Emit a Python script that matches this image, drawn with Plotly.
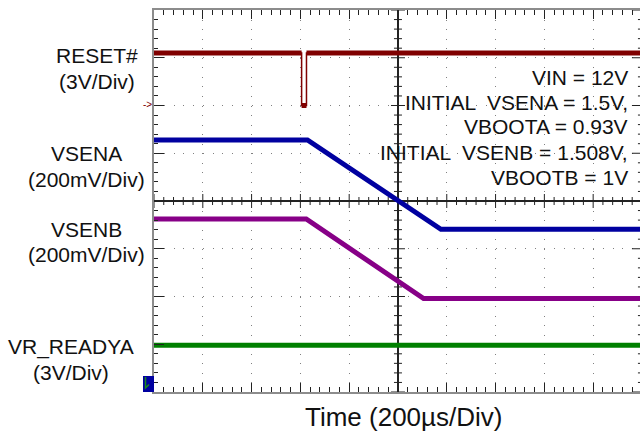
import numpy as np
import plotly.graph_objects as go

# ---- Waveform data (time in µs, amplitude in volts) ----
reset_t = [-1000, -395, -395, -375, -375, 1000]
reset_v = [3.3, 3.3, 0.0, 0.0, 3.3, 3.3]

vsena_t = [-1000, -371, 176, 1000]
vsena_v = [1.5, 1.5, 0.93, 0.93]

vsenb_t = [-1000, -376, 105, 1000]
vsenb_v = [1.508, 1.508, 1.0, 1.0]

ready_t = [-1000, 1000]
ready_v = [3.3, 3.3]

# Channel display settings: volts per division and position of 0 V (divisions from center)
reset_scale, reset_zero = 3.0, 2.0
sense_scale = 0.305
vsena_zero = -3.641
vsenb_zero = -5.321
ready_scale, ready_zero = 3.0, -4.12

channel_labels = [
    ("RESET#", "(3V/Div)"),
    ("VSENA", "(200mV/Div)"),
    ("VSENB", "(200mV/Div)"),
    ("VR_READYA", "(3V/Div)"),
]
note_lines = [
    "VIN = 12V",
    "INITIAL  VSENA = 1.5V,",
    "VBOOTA = 0.93V",
    "INITIAL  VSENB = 1.508V,",
    "VBOOTB = 1V",
]
time_label = "Time (200µs/Div)"

colors = {"reset": "#800000", "vsena": "#0000a0", "vsenb": "#870087", "ready": "#008000"}

# ---- Page geometry ----
W, H = 640, 439
ML, MT, MB, MR = 154, 10, 47, 0
PW, PH = W - ML - MR, H - MT - MB
X_RANGE = [-1000, 992]
Y_RANGE = [-4, 4]
px_per_us = PW / (X_RANGE[1] - X_RANGE[0])
px_per_div = PH / (Y_RANGE[1] - Y_RANGE[0])


def xp(px):
    return (px - ML) / PW


def yp(py):
    return (H - MB - py) / PH


def to_div(volts, scale, zero):
    return [zero + v / scale for v in volts]


def level_segments(t, y):
    """Break a waveform at vertical edges so the thick stroke only covers levels and ramps."""
    out_t, out_y = [t[0]], [y[0]]
    for i in range(1, len(t)):
        if t[i] == t[i - 1]:
            out_t.append(None)
            out_y.append(None)
        out_t.append(t[i])
        out_y.append(y[i])
    return out_t, out_y


fig = go.Figure()

# Graticule tick marks on the center cross and right edge
tx, ty = [], []
for x in np.arange(-1000, 1001, 40):
    if x == 0:
        continue
    half = (7 if x % 200 == 0 else 4) / px_per_div
    tx += [x, x, None]
    ty += [-half, half, None]
for y in np.round(np.arange(-4, 4.001, 0.2), 3):
    if y == 0:
        continue
    half = (7 if abs(y - round(y)) < 1e-6 else 4) / px_per_us
    tx += [-half, half, None]
    ty += [y, y, None]
    rl = (10 if abs(y - round(y)) < 1e-6 else 4) / px_per_us
    tx += [1000 - rl, 1000, None]
    ty += [y, y, None]
fig.add_trace(go.Scatter(x=tx, y=ty, mode="lines", line=dict(color="#222222", width=1),
                         hoverinfo="skip", showlegend=False))

waves = [
    ("reset", reset_t, to_div(reset_v, reset_scale, reset_zero)),
    ("vsena", vsena_t, to_div(vsena_v, sense_scale, vsena_zero)),
    ("vsenb", vsenb_t, to_div(vsenb_v, sense_scale, vsenb_zero)),
    ("ready", ready_t, to_div(ready_v, ready_scale, ready_zero)),
]
for name, t, y in waves:
    # thin stroke for fast edges
    fig.add_trace(go.Scatter(x=t, y=y, mode="lines", line=dict(color=colors[name], width=1.5),
                             hoverinfo="skip", showlegend=False))
    st, sy = level_segments(t, y)
    fig.add_trace(go.Scatter(x=st, y=sy, mode="lines", line=dict(color=colors[name], width=5),
                             hoverinfo="skip", showlegend=False, connectgaps=False))

font = "Liberation Sans, Arial, sans-serif"
text_color = "#111111"
annotations = []

# Channel names on the left
label_pos = [(97, 56, 81), (86, 154, 179), (86, 229, 254), (71, 347, 372)]
for (name, scale), (cx, y1, y2) in zip(channel_labels, label_pos):
    for txt, yy in ((name, y1), (scale, y2)):
        annotations.append(dict(text=txt, x=xp(cx), y=yp(yy), xref="paper", yref="paper",
                                xanchor="center", yanchor="middle", showarrow=False,
                                font=dict(family=font, size=21, color=text_color)))

# Test-condition notes on the right
note_y = [77, 102, 127, 152.5, 177.5]
for txt, yy in zip(note_lines, note_y):
    annotations.append(dict(text=txt, x=xp(630), y=yp(yy), xref="paper", yref="paper",
                            xanchor="right", yanchor="middle", showarrow=False,
                            font=dict(family=font, size=21, color=text_color)))

# Time base label
annotations.append(dict(text=time_label, x=xp(404), y=yp(417), xref="paper", yref="paper",
                        xanchor="center", yanchor="middle", showarrow=False,
                        font=dict(family=font, size=26, color=text_color)))

# Channel 1 ground reference marker
annotations.append(dict(text="->", x=xp(147), y=yp(105), xref="paper", yref="paper",
                        xanchor="center", yanchor="middle", showarrow=False,
                        font=dict(family=font, size=10, color=colors["reset"])))

shapes = [
    # off-screen ground indicator for the lower channel
    dict(type="rect", xref="paper", yref="paper", x0=xp(143), x1=xp(154), y0=yp(392), y1=yp(376),
         fillcolor="#0000a0", line=dict(width=0), layer="above"),
    dict(type="path", xref="paper", yref="paper",
         path=f"M {xp(145.5)} {yp(377)} L {xp(145.5)} {yp(388)} L {xp(149)} {yp(384.5)}",
         line=dict(color="#1a8a1a", width=1.5), layer="above"),
]

fig.update_layout(
    width=W, height=H,
    margin=dict(l=ML, r=MR, t=MT, b=MB, pad=0),
    paper_bgcolor="white", plot_bgcolor="white",
    showlegend=False,
    annotations=annotations,
    shapes=shapes,
    xaxis=dict(
        range=X_RANGE, showticklabels=False, ticks="inside", ticklen=9, tickwidth=1,
        tickcolor="#222222", tick0=0, dtick=200,
        minor=dict(dtick=40, ticks="inside", ticklen=5, tickcolor="#222222", showgrid=False),
        showline=True, linecolor="#8c8c8c", linewidth=2, mirror="ticks",
        showgrid=True, gridcolor="#808080", gridwidth=1, griddash=f"1px,{PH / 40 - 1:.2f}px",
        zeroline=True, zerolinecolor="#222222", zerolinewidth=1.5, fixedrange=True,
    ),
    yaxis=dict(
        range=Y_RANGE, showticklabels=False, ticks="inside", ticklen=10, tickwidth=1,
        tickcolor="#222222", tick0=0, dtick=1,
        minor=dict(dtick=0.2, ticks="inside", ticklen=4, tickcolor="#222222", showgrid=False),
        showline=True, linecolor="#8c8c8c", linewidth=2, mirror=False,
        showgrid=True, gridcolor="#808080", gridwidth=1,
        griddash=f"1px,{PW / (X_RANGE[1] - X_RANGE[0]) * 40 - 1:.2f}px",
        zeroline=True, zerolinecolor="#222222", zerolinewidth=1.5, fixedrange=True,
    ),
)

fig.write_html("out.html")
